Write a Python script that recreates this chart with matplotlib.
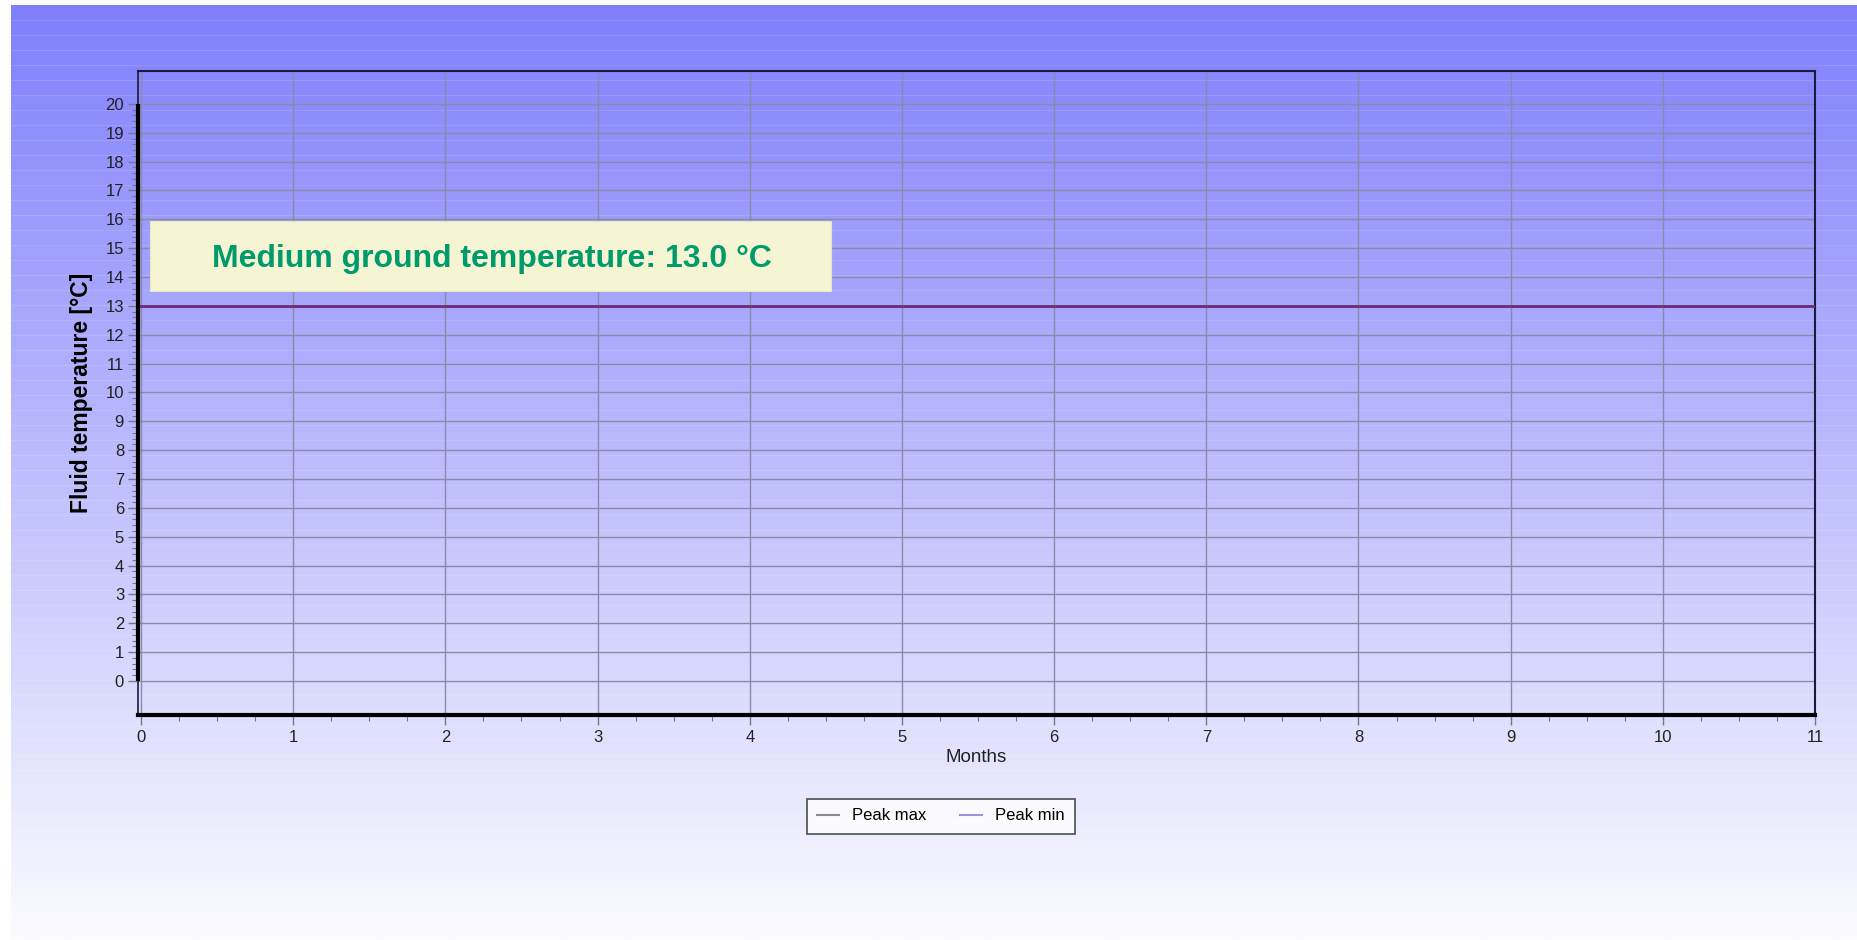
import numpy as np
import matplotlib
matplotlib.use("Agg")
import matplotlib.pyplot as plt
from matplotlib.lines import Line2D
from matplotlib.patches import Rectangle
import matplotlib.ticker as mticker

plt.rcParams['font.family'] = ['Liberation Sans', 'DejaVu Sans']

# ---- data ----
months = [0, 1, 2, 3, 4, 5, 6, 7, 8, 9, 10, 11]
peak_max = [13, 13, 13, 13, 13, 13, 13, 13, 13, 13, 13, 13]
peak_min = [13, 13, 13, 13, 13, 13, 13, 13, 13, 13, 13, 13]
y_ticks = list(range(0, 21))
x_ticks = list(range(0, 12))
series_names = ["Peak max", "Peak min"]
annotation = "Medium ground temperature: 13.0 °C"

W, H = 1857, 940
fig = plt.figure(figsize=(W / 100, H / 100), dpi=100)
fig.patch.set_facecolor("white")

# ---- background gradient ----
bg = fig.add_axes([11 / W, 0, 1 - 11 / W, 1 - 5 / H], zorder=0)
n = 600
t = np.linspace(0, 1, n)[:, None]
top = np.array([127, 127, 252]) / 255.0
bot = np.array([252, 252, 255]) / 255.0
grad = top[None, None, :] * (1 - t[..., None]) + bot[None, None, :] * t[..., None]
grad = np.repeat(grad, 2, axis=1)
bg.imshow(grad, aspect="auto", extent=[0, 1, 0, 1], origin="upper")
# faint banding stripes
bg_h = H - 5
for yp in np.arange(15, bg_h, 15):
    bg.axhline(1 - yp / bg_h, color="white", lw=0.8, alpha=0.12)
bg.set_xlim(0, 1)
bg.set_ylim(0, 1)
bg.axis("off")

# ---- main axes ----
ax = fig.add_axes([138 / W, 1 - 715 / H, (1815 - 138) / W, (715 - 71) / H], zorder=2)
ax.patch.set_alpha(0)
ax.set_xlim(-0.02, 11.0)
ax.set_ylim(-1.18, 21.14)

ax.set_xticks(x_ticks)
ax.set_yticks(y_ticks)
ax.xaxis.set_minor_locator(mticker.MultipleLocator(0.25))
ax.yaxis.set_minor_locator(mticker.FixedLocator(
    [v for v in np.arange(0, 20.01, 0.2) if abs(v - round(v)) > 1e-6]))
ax.grid(True, which="major", color="#8a8aa8", lw=1.0)
ax.set_axisbelow(True)

ax.tick_params(axis="both", which="major", labelsize=12, colors="#777788",
               labelcolor="#222222", length=7, width=1)
ax.tick_params(axis="both", which="minor", colors="#777788", length=4.5, width=0.8)
ax.tick_params(axis="x", which="major", length=7, pad=4)
ax.tick_params(axis="y", which="major", pad=3)

for s in ["top", "right"]:
    ax.spines[s].set_color("#1a1a3a")
    ax.spines[s].set_linewidth(1.5)
ax.spines["left"].set_color("#1a1a3a")
ax.spines["left"].set_linewidth(1.2)
ax.spines["bottom"].set_color("black")
ax.spines["bottom"].set_linewidth(3)
# thick y-axis segment from 0 to 20
ax.plot([-0.02, -0.02], [0, 20], color="black", lw=3.0, clip_on=False,
        solid_capstyle="butt", zorder=5)

# series
ax.plot(months, peak_max, color="#808080", lw=2, zorder=3)
ax.plot(months, peak_min, color="#6e2a80", lw=2, zorder=4)

ax.set_xlabel("Months", fontsize=13.5, color="#222222", labelpad=3)
ax.set_ylabel("Fluid temperature [°C]", fontsize=16.5, fontweight="bold",
              color="black", labelpad=9)

# ---- annotation box ----
fig.patches.append(Rectangle((150 / W, 1 - 291 / H), 681 / W, 70 / H,
                             transform=fig.transFigure, facecolor="#f5f5d3",
                             edgecolor="#e8e8c8", lw=0.8, zorder=6))
fig.text(492 / W, 1 - 259 / H, annotation, ha="center", va="center",
         fontsize=23, fontweight="bold", color="#009a6c", zorder=7)

# ---- legend ----
handles = [Line2D([], [], color="#8c8c8c", lw=1.5),
           Line2D([], [], color="#9a94dc", lw=1.5)]
leg = fig.legend(handles, series_names, loc="center",
                 bbox_to_anchor=(941 / W, 1 - 816 / H), ncol=2,
                 fontsize=12, frameon=True, fancybox=False,
                 handlelength=1.3, columnspacing=2.0, handletextpad=0.8,
                 borderpad=0.6)
leg.get_frame().set_edgecolor("#222222")
leg.get_frame().set_linewidth(1.2)
leg.get_frame().set_facecolor("white")
leg.set_zorder(8)

fig.savefig("out.png", dpi=100)
